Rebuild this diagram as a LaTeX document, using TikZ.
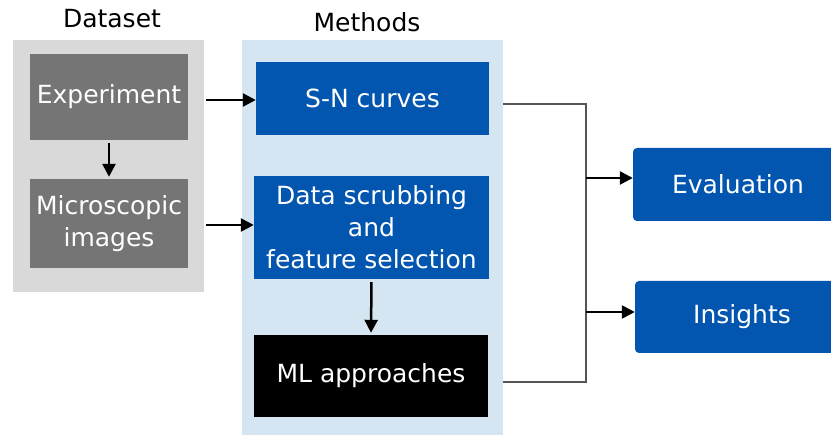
\documentclass[tikz,border=0pt]{standalone}
\usepackage{fontspec}
\setmainfont{DejaVu Sans}
\usetikzlibrary{arrows.meta}
\definecolor{panelgray}{HTML}{D9D9D9}
\definecolor{boxgray}{HTML}{757575}
\definecolor{boxblue}{HTML}{0356B0}
\definecolor{panelblue}{HTML}{D5E5F1}
\definecolor{linegray}{HTML}{555555}
\tikzset{
  panel/.style={inner sep=0pt, draw=none},
  boxfont/.style={font=\fontsize{25}{32}\selectfont},
  graybox/.style={fill=boxgray, text=white, inner sep=0pt, align=center, boxfont},
  bluebox/.style={fill=boxblue, text=white, inner sep=0pt, align=center, boxfont},
  blackbox/.style={fill=black, text=white, inner sep=0pt, align=center, boxfont},
  outbox/.style={fill=boxblue, text=white, inner sep=0pt, rounded corners=4pt, align=center, boxfont},
  heading/.style={text=black, boxfont},
  arr/.style={line width=2.5pt, -{Triangle[length=13pt,width=13pt]}},
  conn/.style={draw=linegray, line width=1.5pt},
}
\begin{document}
\begin{tikzpicture}[x=1pt,y=-1pt]
\useasboundingbox[fill=white] (0,0) rectangle (831,435);
\begin{scope}
\clip (0,0) rectangle (831,435);
% panels
\node[panel, fill=panelgray, minimum width=191pt, minimum height=252pt] (dspanel) at (108.5,166) {};
\node[panel, fill=panelblue, minimum width=261pt, minimum height=395pt] (mpanel) at (372.5,237.5) {};
% headings
\node[heading] (dslabel) at (112,19) {Dataset};
\node[heading] (mlabel) at (367,22) {Methods};
% dataset boxes
\node[graybox, minimum width=158pt, minimum height=86pt] (exp) at (109,97) {Experiment};
\node[graybox, minimum width=158pt, minimum height=89pt] (mic) at (109,223.5) {Microscopic\\images};
% method boxes
\node[bluebox, minimum width=233pt, minimum height=73pt] (sn) at (372.5,98.5) {S-N curves};
\node[bluebox, minimum width=235pt, minimum height=103pt] (ds) at (371.5,227.5) {Data scrubbing\\and\\feature selection};
\node[blackbox, minimum width=234pt, minimum height=82pt] (ml) at (371,376) {ML approaches};
% outputs
\node[outbox, minimum width=210pt, minimum height=73pt] (eval) at (738,184.5) {Evaluation};
\node[outbox, minimum width=214pt, minimum height=72pt] (ins) at (742,317) {Insights};
% connectors
\coordinate (a1) at (206,100);
\coordinate (a2) at (206,225);
\draw[arr] (a1) -- (sn.west |- a1);
\draw[arr] (a2) -- (ds.west |- a2);
\draw[arr, shorten <=3pt, shorten >=2pt] (exp.south) -- (mic.north);
\draw[arr, shorten <=3pt, shorten >=2pt] (ds.south) -- (ml.north);
\coordinate (bt) at (586,104);
\coordinate (bb) at (586,382);
\coordinate (je) at (586,178);
\coordinate (ji) at (586,312);
\draw[conn] (mpanel.east |- bt) -- (bt) -- (bb) -- (mpanel.east |- bb);
\draw[arr] (je) -- (eval.west |- je);
\draw[arr] (ji) -- (ins.west |- ji);
\end{scope}
\end{tikzpicture}
\end{document}
